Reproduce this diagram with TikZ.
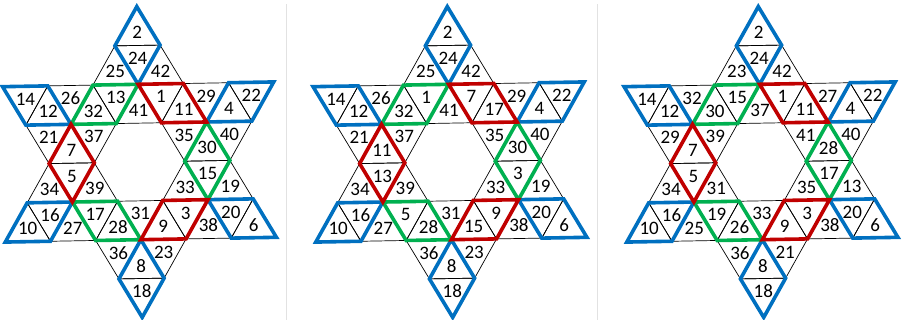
\documentclass[tikz,border=0pt]{standalone}
\usepackage{fontspec}
\setmainfont{Carlito}
\definecolor{PairBlue}{HTML}{0070C0}
\definecolor{PairRed}{HTML}{C00000}
\definecolor{PairGreen}{HTML}{00B050}
\definecolor{Rule}{HTML}{E2E2E2}
\tikzset{
  cell/.style={draw=black, line width=0.7pt, line join=miter},
  num/.style={inner sep=0pt, font=\fontsize{19}{19}\selectfont},
  pair/.style={line width=3.6pt, line join=miter},
  bluepair/.style={pair, draw=PairBlue},
  redpair/.style={pair, draw=PairRed},
  greenpair/.style={pair, draw=PairGreen},
  divider/.style={draw=Rule, line width=1pt}
}
% #1 tag, #2 centre x, #3 the 42 labels, row by row from the top
\newcommand\starpanel[3]{%
  \begin{scope}[shift={(#2,162)}, rotate=1, x=22.6pt, y=38.85pt]
    \foreach \k/\r [count=\i from 0] in {0/4, -1/3,0/3,1/3,
        -5/2,-4/2,-3/2,-2/2,-1/2,0/2,1/2,2/2,3/2,4/2,5/2,
        -4/1,-3/1,-2/1,2/1,3/1,4/1, -4/0,-3/0,-2/0,2/0,3/0,4/0,
        -5/-1,-4/-1,-3/-1,-2/-1,-1/-1,0/-1,1/-1,2/-1,3/-1,4/-1,5/-1,
        -1/-2,0/-2,1/-2, 0/-3}{
      \pgfmathtruncatemacro\lab{#3[\i]}
      \pgfmathtruncatemacro\odd{mod(\k+\r+20,2)}
      \ifnum\odd=0
        \draw[cell] (\k-1,\r-1) -- (\k+1,\r-1) -- (\k,\r) -- cycle;
        \node[num] (#1-\lab) at (\k,\r-0.667) {\lab};
      \else
        \draw[cell] (\k-1,\r) -- (\k+1,\r) -- (\k,\r-1) -- cycle;
        \node[num] (#1-\lab) at (\k,\r-0.333) {\lab};
      \fi
    }
    % coloured pairs
    \draw[bluepair] (0,4) -- (-1,3) -- (0,2) -- (1,3) -- cycle;
    \draw[bluepair] (-6,2) -- (-4,2) -- (-3,1) -- (-5,1) -- cycle;
    \draw[bluepair] (4,2) -- (6,2) -- (5,1) -- (3,1) -- cycle;
    \draw[bluepair] (-5,-1) -- (-3,-1) -- (-4,-2) -- (-6,-2) -- cycle;
    \draw[bluepair] (3,-1) -- (5,-1) -- (6,-2) -- (4,-2) -- cycle;
    \draw[bluepair] (0,-2) -- (-1,-3) -- (0,-4) -- (1,-3) -- cycle;
    \draw[greenpair] (-2,2) -- (0,2) -- (-1,1) -- (-3,1) -- cycle;
    \draw[greenpair] (3,1) -- (2,0) -- (3,-1) -- (4,0) -- cycle;
    \draw[greenpair] (-3,-1) -- (-1,-1) -- (0,-2) -- (-2,-2) -- cycle;
    \draw[redpair] (0,2) -- (2,2) -- (3,1) -- (1,1) -- cycle;
    \draw[redpair] (-3,1) -- (-4,0) -- (-3,-1) -- (-2,0) -- cycle;
    \draw[redpair] (1,-1) -- (3,-1) -- (2,-2) -- (0,-2) -- cycle;
  \end{scope}}
\begin{document}
\begin{tikzpicture}[x=1pt, y=-1pt]
  \useasboundingbox (0,0) rectangle (905,320);
  \draw[divider] (286,4) -- (286,320);
  \draw[divider] (597,4) -- (597,320);
  \starpanel{a}{139.5}{{2, 25,24,42, 14,12,26,32,13,41,1,11,29,4,22,
    21,7,37,35,30,40, 34,5,39,33,15,19,
    10,16,27,17,28,31,9,3,38,20,6, 36,8,23, 18}}
  \starpanel{b}{450}{{2, 25,24,42, 14,12,26,32,1,41,7,17,29,4,22,
    21,11,37,35,30,40, 34,13,39,33,3,19,
    10,16,27,5,28,31,15,9,38,20,6, 36,8,23, 18}}
  \starpanel{c}{761}{{2, 23,24,42, 14,12,32,30,15,37,1,11,27,4,22,
    29,7,39,41,28,40, 34,5,31,35,17,13,
    10,16,25,19,26,33,9,3,38,20,6, 36,8,21, 18}}
\end{tikzpicture}
\end{document}
